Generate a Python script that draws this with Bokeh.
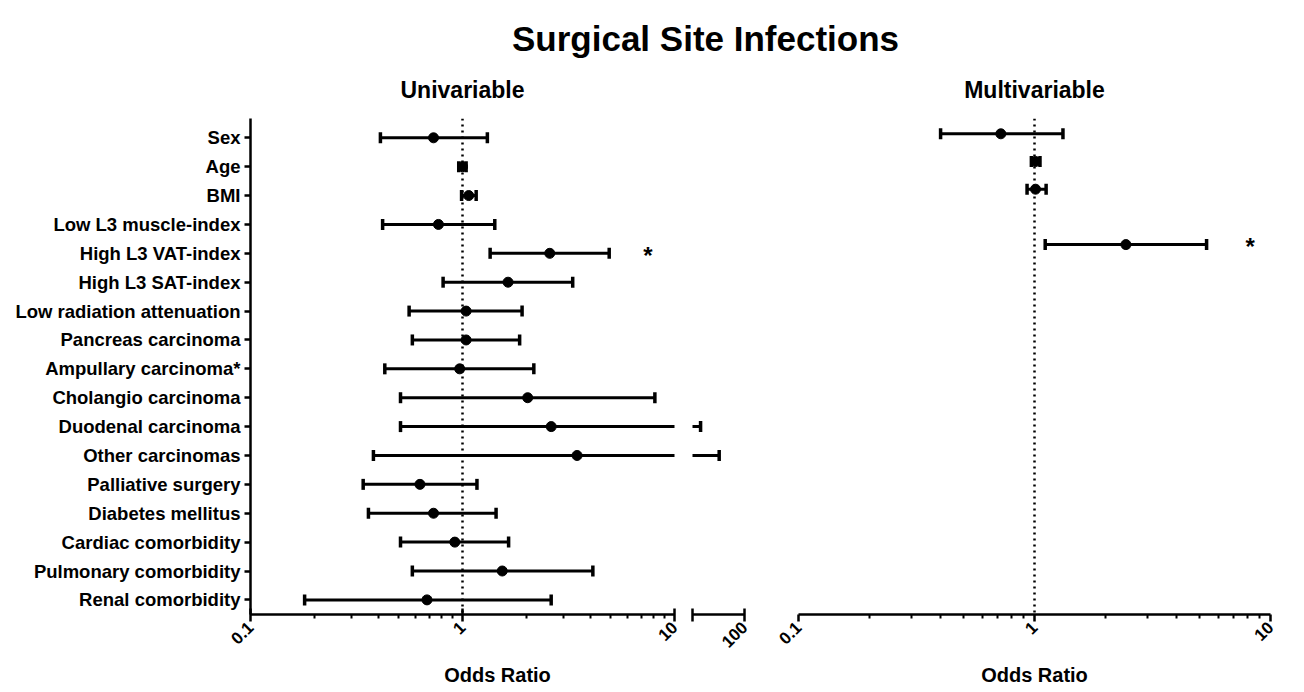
import math
from bokeh.plotting import figure
from bokeh.models import Range1d, FixedTicker, NumeralTickFormatter, Span, ColumnDataSource
from bokeh.layouts import column, row
from bokeh.embed import file_html
from bokeh.resources import INLINE
from bokeh.core.properties import value

# ---------------- data ----------------
categories = ["Sex", "Age", "BMI", "Low L3 muscle-index", "High L3 VAT-index",
              "High L3 SAT-index", "Low radiation attenuation", "Pancreas carcinoma",
              "Ampullary carcinoma*", "Cholangio carcinoma", "Duodenal carcinoma",
              "Other carcinomas", "Palliative surgery", "Diabetes mellitus",
              "Cardiac comorbidity", "Pulmonary comorbidity", "Renal comorbidity"]
uni_or = [0.73, 1.00, 1.07, 0.77, 2.58, 1.64, 1.04, 1.04, 0.97, 2.03, 2.62, 3.47,
          0.63, 0.73, 0.92, 1.54, 0.68]
uni_lo = [0.41, 0.96, 0.99, 0.42, 1.35, 0.81, 0.56, 0.58, 0.43, 0.51, 0.51, 0.38,
          0.34, 0.36, 0.51, 0.58, 0.18]
uni_hi = [1.31, 1.04, 1.16, 1.42, 4.92, 3.31, 1.91, 1.86, 2.17, 8.08, 14.3, 32.6,
          1.17, 1.44, 1.65, 4.12, 2.62]

multi_rows = ["Sex", "Age", "BMI", "High L3 VAT-index"]
multi_or = [0.72, 1.01, 1.01, 2.44]
multi_lo = [0.40, 0.97, 0.93, 1.11]
multi_hi = [1.32, 1.055, 1.12, 5.36]

sig_uni = ["High L3 VAT-index"]
sig_multi = ["High L3 VAT-index"]
sig_uni_x = 7.5
sig_multi_x = 8.2

main_ticks = [0.1, 1, 10]
main_minor = [0.2, 0.3, 0.4, 0.5, 0.6, 0.7, 0.8, 0.9, 2, 3, 4, 5, 6, 7, 8, 9]
break_ticks = [100]
break_minor = [10]

title_text = "Surgical Site Infections"
left_title = "Univariable"
right_title = "Multivariable"
x_label = "Odds Ratio"

# ---------------- layout constants (page pixels) ----------------
FONT = "Liberation Sans"
FRAME_TOP = 118
FRAME_H = 496
BORDER_B = 45
HEADER_H = FRAME_TOP
L_BL, L_FW, L_BR = 250, 424, 9
B_BL, B_FW, B_BR = 9, 52, 14
R_BL, R_FW, R_BR = 40, 472, 20
TOTAL_W = L_BL + L_FW + L_BR + B_BL + B_FW + B_BR + R_BL + R_FW + R_BR
ROW_BOTTOM = FRAME_TOP + FRAME_H + BORDER_B
PAGE_BOTTOM = 690
FOOT_H = PAGE_BOTTOM - ROW_BOTTOM

L_FRAME_L = L_BL
L_FRAME_R = L_FRAME_L + L_FW
B_FRAME_L = L_FRAME_R + L_BR + B_BL
B_FRAME_R = B_FRAME_L + B_FW
R_FRAME_L = B_FRAME_R + B_BR + R_BL
R_FRAME_R = R_FRAME_L + R_FW

LW = 2.5


def base_fig(frame_w, x_range, y_range, bl, br, yaxis):
    p = figure(frame_width=frame_w, frame_height=FRAME_H, x_axis_type="log",
               x_range=x_range, y_range=y_range, output_backend="svg",
               toolbar_location=None, title=None,
               min_border_left=bl, min_border_right=br,
               min_border_top=0, min_border_bottom=BORDER_B,
               y_axis_location="left" if yaxis else None)
    p.grid.visible = False
    p.outline_line_color = None
    p.background_fill_color = "white"
    p.border_fill_color = "white"
    ax = p.xaxis[0]
    ax.axis_line_width = LW
    ax.axis_line_color = "black"
    ax.major_tick_line_width = LW
    ax.minor_tick_line_width = 2
    ax.major_tick_out = 7
    ax.minor_tick_out = 4
    ax.minor_tick_in = 0
    ax.major_tick_in = 0
    ax.major_label_orientation = math.pi / 4
    ax.major_label_standoff = 3
    ax.major_label_text_font = FONT
    ax.major_label_text_font_style = "bold"
    ax.major_label_text_font_size = "17px"
    ax.major_label_text_color = "black"
    ax.formatter = NumeralTickFormatter(format="0.[0]")
    return p


def draw_bars(p, ys, ors, los, his):
    src = ColumnDataSource(dict(y=ys, est=ors, lo=los, hi=his))
    p.segment(x0="lo", y0="y", x1="hi", y1="y", line_width=3, line_color="black", source=src)
    for col in ("lo", "hi"):
        p.scatter(x=col, y="y", marker="dash", angle=math.pi / 2, size=11,
                  line_width=3.5, line_color="black", source=src)
    p.scatter(x="est", y="y", marker="circle", size=10, fill_color="black",
              line_color="black", source=src)


def add_stars(p, rows, xval):
    p.text(x=[xval] * len(rows), y=[categories.index(c) for c in rows],
           text=["*"] * len(rows), text_font=value(FONT), text_font_style="bold",
           text_font_size="24px", text_align="center", text_baseline="middle",
           y_offset=2, text_color="black")


rows_idx = list(range(len(categories)))

# left (univariable) main segment
yr_left = Range1d((FRAME_TOP + FRAME_H - 137.3) / 28.88, (FRAME_TOP - 137.3) / 28.88)
p1 = base_fig(L_FW, Range1d(0.1, 10), yr_left, L_BL, L_BR, True)
p1.xaxis[0].ticker = FixedTicker(ticks=main_ticks, minor_ticks=main_minor)
p1.xaxis[0].major_tick_in = 6
ya = p1.yaxis[0]
ya.ticker = FixedTicker(ticks=rows_idx, minor_ticks=[])
ya.major_label_overrides = {i: c for i, c in enumerate(categories)}
ya.axis_line_width = LW
ya.major_tick_line_width = LW
ya.major_tick_out = 6
ya.major_tick_in = 0
ya.minor_tick_out = 0
ya.minor_tick_in = 0
ya.major_label_standoff = 4
ya.major_label_text_font = FONT
ya.major_label_text_font_style = "bold"
ya.major_label_text_font_size = "18.5px"
ya.major_label_text_color = "black"
p1.add_layout(Span(location=1, dimension="height", line_dash="2 4", line_width=LW,
                   line_color="black", level="underlay"))
draw_bars(p1, rows_idx, uni_or, uni_lo, uni_hi)
add_stars(p1, sig_uni, sig_uni_x)

# left break segment
p2 = base_fig(B_FW, Range1d(10, 100), yr_left, B_BL, B_BR, False)
p2.xaxis[0].ticker = FixedTicker(ticks=break_ticks, minor_ticks=break_minor)
p2.xaxis[0].major_tick_in = 6
p2.xaxis[0].minor_tick_in = 6
p2.xaxis[0].minor_tick_out = 7
p2.xaxis[0].minor_tick_line_width = LW
draw_bars(p2, rows_idx, uni_or, uni_lo, uni_hi)

# right (multivariable)
yr_right = Range1d((FRAME_TOP + FRAME_H - 133.3) / 27.7, (FRAME_TOP - 133.3) / 27.7)
p3 = base_fig(R_FW, Range1d(0.1, 10), yr_right, R_BL, R_BR, False)
p3.xaxis[0].ticker = FixedTicker(ticks=main_ticks, minor_ticks=main_minor)
p3.add_layout(Span(location=1, dimension="height", line_dash="2 4", line_width=LW,
                   line_color="black", level="underlay"))
draw_bars(p3, [categories.index(c) for c in multi_rows], multi_or, multi_lo, multi_hi)
add_stars(p3, sig_multi, sig_multi_x)


def blank_fig(height, y0, y1):
    p = figure(width=TOTAL_W, height=height, x_range=Range1d(0, TOTAL_W),
               y_range=Range1d(y1, y0), output_backend="svg", toolbar_location=None,
               title=None, min_border=0, x_axis_location=None, y_axis_location=None)
    p.grid.visible = False
    p.outline_line_color = None
    return p


header = blank_fig(HEADER_H, 0, FRAME_TOP)
header.text(x=[705], y=[38], text=[title_text], text_font=value(FONT),
            text_font_style="bold", text_font_size="35px", text_align="center",
            text_baseline="alphabetic", text_color="black")
header.text(x=[(L_FRAME_L + L_FRAME_R) / 2, (R_FRAME_L + R_FRAME_R) / 2], y=[89, 89],
            text=[left_title, right_title], text_font=value(FONT),
            text_font_style="bold", text_font_size="23px", text_align="center",
            text_baseline="alphabetic", text_color="black")

footer = blank_fig(FOOT_H, ROW_BOTTOM, PAGE_BOTTOM)
footer.text(x=[(L_FRAME_L + B_FRAME_R) / 2, (R_FRAME_L + R_FRAME_R) / 2], y=[674, 674],
            text=[x_label, x_label], text_font=value(FONT), text_font_style="bold",
            text_font_size="20px", text_align="center", text_baseline="alphabetic",
            text_color="black")

layout = column(header, row(p1, p2, p3), footer)
open("out.html", "w").write(file_html(layout, INLINE))
